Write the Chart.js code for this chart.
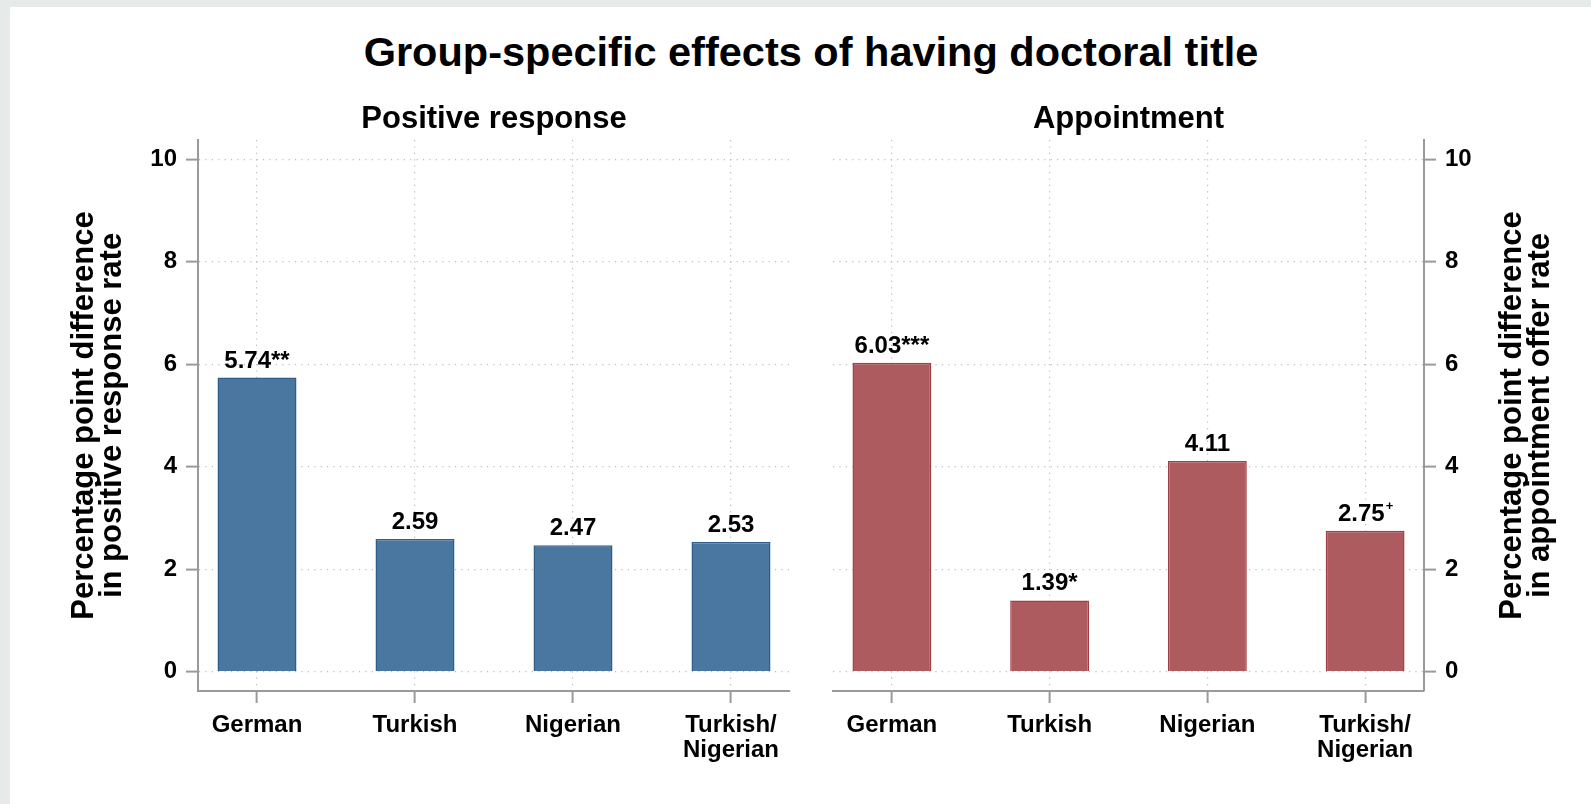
<!DOCTYPE html>
<html>
<head>
<meta charset="utf-8">
<script src="https://cdn.jsdelivr.net/npm/chart.js@4"></script>
<style>
  html, body { margin: 0; padding: 0; }
  body {
    width: 1591px; height: 804px; position: relative; overflow: hidden;
    background: #e6ebea;
    font-family: "Liberation Sans", Arial, sans-serif;
  }
  #sheet { position: absolute; left: 10px; top: 7px; right: 0; bottom: 0; background: #fff; }
  #main-title {
    position: absolute; left: 198px; width: 1226px; top: 31px;
    text-align: center; font-weight: bold; font-size: 41.5px; line-height: 41px; color: #000;
  }
  canvas { position: absolute; top: 0; }
  #chart-response { left: 0; }
  #chart-appointment { left: 811px; }
</style>
</head>
<body>
<div id="sheet"></div>
<div id="main-title">Group-specific effects of having doctoral title</div>
<canvas id="chart-response" width="811" height="804"></canvas>
<canvas id="chart-appointment" width="780" height="804"></canvas>

<script>
"use strict";

// 数値はここに集約
const categories = ["German", "Turkish", "Nigerian", "Turkish/Nigerian"];
const responseValues = [5.74, 2.59, 2.47, 2.53];
const responseMarks = ["**", "", "", ""];
const appointmentValues = [6.03, 1.39, 4.11, 2.75];
const appointmentMarks = ["***", "*", "", "+"];
const yTicks = [0, 2, 4, 6, 8, 10];

const FONT = '"Liberation Sans", Arial, sans-serif';

// 棒の上に値と有意水準の記号を描く（"+" だけは上付き）
const barLabels = {
  id: "barLabels",
  afterDatasetsDraw(chart, args, opts) {
    const ctx = chart.ctx;
    const ds = chart.data.datasets[0];
    const meta = chart.getDatasetMeta(0);
    ctx.save();
    ctx.fillStyle = "#000";
    ctx.textBaseline = "alphabetic";
    ctx.textAlign = "left";
    meta.data.forEach((bar, i) => {
      const mark = opts.marks[i] || "";
      const sup = mark === "+";
      const text = ds.data[i].y.toFixed(2) + (sup ? "" : mark);
      ctx.font = `bold 24px ${FONT}`;
      const w = ctx.measureText(text).width;
      let supW = 0;
      if (sup) {
        ctx.font = `bold 13px ${FONT}`;
        supW = ctx.measureText("+").width;
      }
      const x0 = bar.x - (w + supW) / 2;
      const y = bar.y - 10;
      ctx.font = `bold 24px ${FONT}`;
      ctx.fillText(text, x0, y);
      if (sup) {
        ctx.font = `bold 13px ${FONT}`;
        ctx.fillText("+", x0 + w + 1, y - 11);
      }
    });
    ctx.restore();
  }
};

// パネル見出しと縦軸タイトル（左右とも下から上へ読む向き）
const panelText = {
  id: "panelText",
  afterDraw(chart, args, opts) {
    const { ctx, chartArea } = chart;
    ctx.save();
    ctx.fillStyle = "#000";
    ctx.textAlign = "center";
    ctx.font = `bold 31px ${FONT}`;
    ctx.textBaseline = "alphabetic";
    ctx.fillText(opts.heading, (chartArea.left + chartArea.right) / 2, opts.headingY);

    const midY = (chartArea.top + chartArea.bottom) / 2;
    ctx.textBaseline = "middle";
    opts.axisTitle.forEach((line, k) => {
      ctx.save();
      ctx.translate(opts.axisTitleX + k * opts.axisTitleGap, midY);
      ctx.rotate(-Math.PI / 2);
      ctx.fillText(line, 0, 0);
      ctx.restore();
    });
    ctx.restore();
  }
};

const gridStyle = {
  color: "#bcbcbc",
  lineWidth: 1.2,
  offset: false,
  tickLength: 12,
  tickColor: "#9a9a9a",
  tickWidth: 2,
  tickBorderDash: []
};
const borderStyle = { color: "#9a9a9a", width: 2, dash: [1.2, 5.2] };
const tickFont = { family: FONT, size: 24, weight: "bold", lineHeight: 1.04 };

function buildPanel(canvasId, values, marks, fill, edge, side, heading, axisTitle, axisTitleX) {
  const isLeft = side === "left";
  return new Chart(document.getElementById(canvasId), {
    type: "bar",
    data: {
      datasets: [{
        data: values.map((v, i) => ({ x: i, y: v })),
        backgroundColor: fill,
        borderColor: edge,
        borderWidth: 1.5,
        barPercentage: 0.5,
        categoryPercentage: 1
      }]
    },
    options: {
      responsive: false,
      animation: false,
      layout: {
        padding: isLeft
          ? { top: 140, right: 21, bottom: 0, left: 0 }
          : { top: 140, right: 0, bottom: 0, left: 22 }
      },
      plugins: {
        legend: { display: false },
        tooltip: { enabled: false },
        title: { display: false },
        barLabels: { marks },
        panelText: { heading, headingY: 128, axisTitle, axisTitleX, axisTitleGap: 28 }
      },
      scales: {
        x: {
          type: "linear",
          position: "bottom",
          min: -0.3734,
          max: 3.3734,
          offset: false,
          afterBuildTicks: s => { s.ticks = categories.map((_, i) => ({ value: i })); },
          afterFit: s => { s.height = 113; },
          ticks: {
            color: "#000",
            font: tickFont,
            padding: 10,
            maxRotation: 0,
            autoSkip: false,
            callback: v => categories[v].split(/(?<=\/)/)
          },
          grid: gridStyle,
          border: borderStyle
        },
        y: {
          type: "linear",
          position: side,
          min: -0.377,
          max: 10.377,
          afterBuildTicks: s => { s.ticks = yTicks.map(v => ({ value: v })); },
          afterFit: s => { s.width = isLeft ? 198 : 167; },
          ticks: { color: "#000", font: tickFont, padding: 9, callback: v => String(v) },
          grid: gridStyle,
          border: borderStyle
        }
      }
    },
    plugins: [barLabels, panelText]
  });
}

buildPanel("chart-response", responseValues, responseMarks,
  "#4a77a0", "#2f5e8b", "left", "Positive response",
  ["Percentage point difference", "in positive response rate"], 84);

buildPanel("chart-appointment", appointmentValues, appointmentMarks,
  "#ad5b5f", "#a03e47", "right", "Appointment",
  ["Percentage point difference", "in appointment offer rate"], 701);
</script>
</body>
</html>
